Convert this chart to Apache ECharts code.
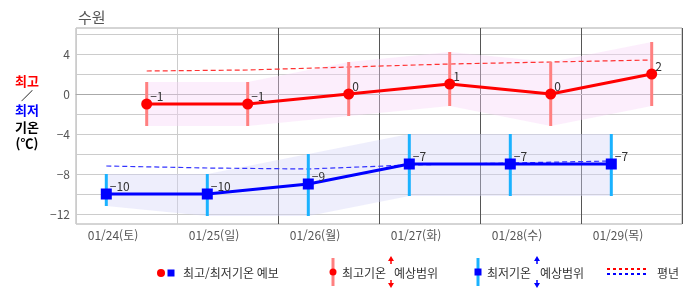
<!DOCTYPE html>
<html lang="ko">
<head>
<meta charset="UTF-8">
<title>수원 기온 예보</title>
<script src="https://cdn.jsdelivr.net/npm/echarts@6/dist/echarts.min.js"></script>
<style>html,body{margin:0;padding:0;background:#fff;}</style>
</head>
<body>
<div id="main" style="width:686px;height:295px;"></div>
<script type="text/javascript">
    // 날짜, 기온 데이터
    var days = ["01/24(토)", "01/25(일)", "01/26(월)", "01/27(화)", "01/28(수)", "01/29(목)"];
    var maxTemp = [-1, -1, 0, 1, 0, 2];
    var maxHigh = [1.2, 1.2, 3.2, 4.2, 3.2, 5.2];
    var maxLow = [-3.2, -3.2, -2.2, -1.2, -3.2, -1.2];
    var maxNormal = [2.3, 2.4, 2.7, 3.0, 3.2, 3.4];
    var minTemp = [-10, -10, -9, -7, -7, -7];
    var minHigh = [-8, -8, -6, -4, -4, -4];
    var minLow = [-11.2, -12.2, -12.2, -10.2, -10.2, -10.2];
    var minNormal = [-7.2, -7.4, -7.5, -7.1, -6.9, -6.7];
    var yTickStep = 4;

    // 하루 안에서의 위치 (아침 최저, 오후 최고)
    var MIN_AT = 0.3, MAX_AT = 0.7;
    var FONT = '"Noto Sans CJK KR", sans-serif';

    function fmt(v) { return v < 0 ? "\u2212" + (-v) : "" + v; }
    function pts(arr, at) { return arr.map(function (v, i) { return [i + at, v]; }); }
    function bars(lo, hi, at) { return lo.map(function (v, i) { return [i + at, v, hi[i]]; }); }

    // 예상범위 막대
    function barRender(color) {
        return function (params, api) {
            var a = api.coord([api.value(0), api.value(1)]);
            var b = api.coord([api.value(0), api.value(2)]);
            return {
                type: "line",
                shape: {x1: a[0], y1: a[1], x2: b[0], y2: b[1]},
                style: {stroke: color, lineWidth: 3}
            };
        };
    }
    // 예상범위 띠 (첫 항목에서 다각형 하나로)
    function bandRender(lo, hi, at, color) {
        return function (params, api) {
            if (params.dataIndex !== 0) return null;
            var top = [], bottom = [];
            for (var i = 0; i < lo.length; i++) {
                top.push(api.coord([i + at, hi[i]]));
                bottom.unshift(api.coord([i + at, lo[i]]));
            }
            return {
                type: "polygon", silent: true,
                shape: {points: top.concat(bottom)},
                style: {fill: color}
            };
        };
    }

    function txt(t, x, y, color, size, weight, align) {
        return {
            type: "text", silent: true,
            style: {
                text: t, x: x, y: y, fill: color, fontSize: size, fontFamily: FONT,
                fontWeight: weight || "normal", align: align || "left", verticalAlign: "middle"
            }
        };
    }
    function arrows(x, y1, y2, color) {
        return [
            {type: "line", shape: {x1: x, y1: y1 + 4, x2: x, y2: y1 + 8}, style: {stroke: color, lineWidth: 1.5}},
            {type: "polygon", shape: {points: [[x - 3, y1 + 5], [x + 3, y1 + 5], [x, y1]]}, style: {fill: color}},
            {type: "line", shape: {x1: x, y1: y2 - 8, x2: x, y2: y2 - 4}, style: {stroke: color, lineWidth: 1.5}},
            {type: "polygon", shape: {points: [[x - 3, y2 - 5], [x + 3, y2 - 5], [x, y2]]}, style: {fill: color}}
        ];
    }

    var myChart = echarts.init(document.getElementById("main"));

    var pointLabel = {
        show: true, position: "right", distance: 0, offset: [-2, -8],
        color: "#333", fontSize: 12, fontFamily: FONT,
        formatter: function (p) { return fmt(p.value[1]); }
    };

    var legend = [
        {type: "circle", shape: {cx: 161, cy: 273, r: 4}, style: {fill: "#ff0000"}},
        {type: "rect", shape: {x: 167.5, y: 269.5, width: 7, height: 7}, style: {fill: "#0000ff"}},
        txt("최고/최저기온 예보", 183, 273, "#333", 12),
        {type: "line", shape: {x1: 333, y1: 258, x2: 333, y2: 286}, style: {stroke: "#ff8080", lineWidth: 3}},
        {type: "circle", shape: {cx: 333, cy: 272, r: 3.5}, style: {fill: "#ff0000"}},
        txt("최고기온", 342, 273, "#333", 12),
        txt("예상범위", 394, 273, "#333", 12),
        {type: "line", shape: {x1: 478, y1: 258, x2: 478, y2: 286}, style: {stroke: "#1ab2ff", lineWidth: 3}},
        {type: "rect", shape: {x: 474.5, y: 268.5, width: 7, height: 7}, style: {fill: "#0000ff"}},
        txt("최저기온", 487, 273, "#333", 12),
        txt("예상범위", 540, 273, "#333", 12),
        {type: "line", shape: {x1: 607, y1: 269, x2: 647, y2: 269}, style: {stroke: "#ff0000", lineWidth: 2, lineDash: [3, 3]}},
        {type: "line", shape: {x1: 607, y1: 274, x2: 647, y2: 274}, style: {stroke: "#0000ff", lineWidth: 2, lineDash: [3, 3]}},
        txt("평년", 657, 273, "#333", 12)
    ].concat(arrows(391, 256, 288, "#ff0000"), arrows(537, 256, 288, "#0000ff"));

    var yTitle = [
        txt("최고", 27, 81, "#ff0000", 13, "bold", "center"),
        txt("／", 27, 96, "#000", 12, "normal", "center"),
        txt("최저", 27, 110, "#0000ff", 13, "bold", "center"),
        txt("기온", 27, 127, "#000", 13, "bold", "center"),
        txt("(℃)", 27, 143, "#000", 13, "bold", "center")
    ];

    var option = {
        animation: false,
        textStyle: {fontFamily: FONT},
        title: {
            text: "수원", left: 73, top: 5,
            textStyle: {fontSize: 15, fontWeight: "normal", color: "#555", fontFamily: FONT}
        },
        grid: {left: 76, right: 4, top: 28, bottom: 71, show: true, borderColor: "#aaa", borderWidth: 1},
        xAxis: {
            type: "value", min: 0, max: days.length, interval: 1,
            axisLine: {lineStyle: {color: "#aaa"}},
            axisTick: {show: false},
            axisLabel: {
                formatter: function (v) { return days[v] || ""; },
                color: "#555", fontSize: 12, margin: 5, padding: [0, 0, 0, 74]
            },
            splitLine: {lineStyle: {color: ["#ccc", "#ccc", "#555", "#555", "#555", "#555", "#555"]}}
        },
        yAxis: {
            type: "value", min: -13, max: 6.6, interval: 1,
            axisLine: {show: false},
            axisTick: {show: false},
            axisLabel: {
                formatter: function (v) { return v % yTickStep === 0 ? fmt(v) : ""; },
                color: "#555", fontSize: 12, margin: 6
            },
            splitLine: {lineStyle: {color: ["transparent", "#ccc"]}}
        },
        graphic: legend.concat(yTitle),
        series: [
            // 예상범위 띠
            {type: "custom", data: bars(maxLow, maxHigh, MAX_AT), encode: {x: 0, y: [1, 2]}, z: 1,
                renderItem: bandRender(maxLow, maxHigh, MAX_AT, "rgba(248,212,248,0.4)")},
            {type: "custom", data: bars(minLow, minHigh, MIN_AT), encode: {x: 0, y: [1, 2]}, z: 1,
                renderItem: bandRender(minLow, minHigh, MIN_AT, "rgba(212,212,248,0.4)")},
            // 평년
            {type: "line", data: pts(maxNormal, MAX_AT), symbol: "none", z: 2,
                lineStyle: {color: "#ff3333", width: 1.2, type: [5, 3]}},
            {type: "line", data: pts(minNormal, MIN_AT), symbol: "none", z: 2,
                lineStyle: {color: "#3333ff", width: 1.2, type: [5, 3]}},
            // 예상범위 막대
            {type: "custom", data: bars(maxLow, maxHigh, MAX_AT), encode: {x: 0, y: [1, 2]},
                renderItem: barRender("#ff8080"), z: 3},
            {type: "custom", data: bars(minLow, minHigh, MIN_AT), encode: {x: 0, y: [1, 2]},
                renderItem: barRender("#1ab2ff"), z: 3},
            // 예보
            {type: "line", data: pts(maxTemp, MAX_AT), z: 4,
                symbol: "circle", symbolSize: 11,
                itemStyle: {color: "#ff0000"}, lineStyle: {color: "#ff0000", width: 3},
                label: pointLabel},
            {type: "line", data: pts(minTemp, MIN_AT), z: 4,
                symbol: "rect", symbolSize: 11,
                itemStyle: {color: "#0000ff"}, lineStyle: {color: "#0000ff", width: 3},
                label: pointLabel}
        ]
    };

    myChart.setOption(option);
</script>
</body>
</html>
